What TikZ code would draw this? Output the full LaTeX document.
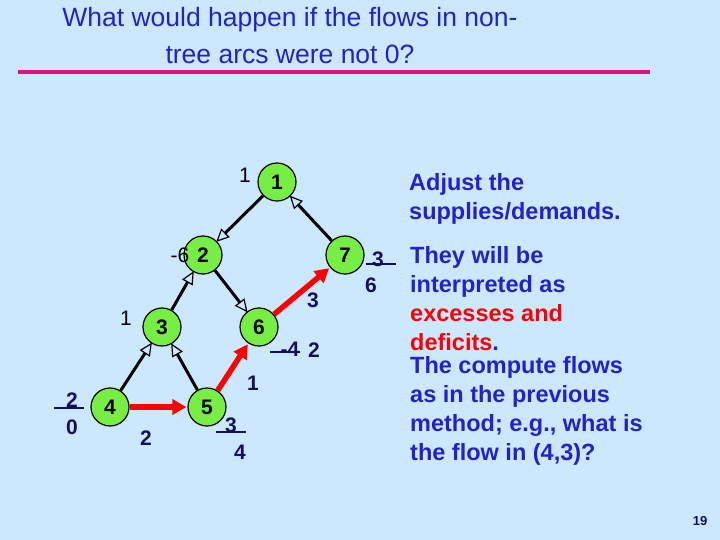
\documentclass[tikz,border=0pt]{standalone}
\usepackage{fontspec}
\setmainfont{Liberation Sans}
\usetikzlibrary{arrows.meta}
\definecolor{bg}{HTML}{CCE8FF}
\definecolor{ttl}{HTML}{2222CC}
\definecolor{navy}{HTML}{101060}
\definecolor{grn}{HTML}{77EE44}
\begin{document}
\begin{tikzpicture}[x=1pt,y=-1pt,
  nd/.style={circle,draw=black,line width=1.2pt,fill=grn,minimum size=38pt,inner sep=0pt,font=\bfseries\fontsize{21}{21}\selectfont},
  tr/.style={draw=black,line width=3pt,-{Triangle[open,fill=bg,length=13pt,width=12pt,line width=1.2pt]},shorten >=-1pt},
  rd/.style={draw=red,line width=5.5pt,-{Triangle[length=14pt,width=15pt]},shorten >=1pt},
  lb/.style={font=\bfseries\fontsize{21}{21}\selectfont,text=navy,inner sep=0pt},
  bl/.style={font=\fontsize{21}{21}\selectfont,inner sep=0pt},
  st/.style={draw=navy,line width=2.5pt}]
\fill[bg] (0,0) rectangle (720,540);
\useasboundingbox (0,0) rectangle (720,540);
\node[text=ttl,align=center,font=\fontsize{26.5}{37}\selectfont] (title) at (290,36) {What would happen if the flows in non-\\tree arcs were not 0?};
\draw[magenta!80!purple,line width=4pt] (18,72) -- (650,72);
\node[nd] (n1) at (277,182) {1};
\node[nd] (n2) at (203,255) {2};
\node[nd] (n7) at (345,255) {7};
\node[nd] (n3) at (162,327) {3};
\node[nd] (n6) at (259,327) {6};
\node[nd] (n4) at (110,407) {4};
\node[nd] (n5) at (207,407) {5};
\draw[tr] (n1) -- (n2);
\draw[tr] (n7) -- (n1);
\draw[tr] (n3) -- (n2);
\draw[tr] (n2) -- (n6);
\draw[tr] (n4) -- (n3);
\draw[tr] (n5) -- (n3);
\draw[rd] (n4) -- (n5);
\draw[rd] (n5) -- (n6);
\draw[rd] (n6) -- (n7);
\node[bl] (s1) at (245,175) {1};
\node[bl] (s2) at (180,255) {-6};
\node[bl] (s3) at (126,318) {1};
\node[lb] (a4) at (72,400) {2};
\draw[st] (54,408) -- (84,408);
\node[lb] (b4) at (72,427) {0};
\node[lb] (e45) at (146,438) {2};
\node[lb] (a5) at (231,425) {3};
\draw[st] (216,432) -- (246,432);
\node[lb] (b5) at (240,452) {4};
\node[lb] (e56) at (253,383) {1};
\node[lb] (a6) at (290,349) {-4};
\draw[st] (270,352) -- (300,352);
\node[lb] (b6) at (314,350) {2};
\node[lb] (e67) at (313,300) {3};
\node[lb] (a7) at (378,259) {3};
\draw[st] (366,264) -- (396,264);
\node[lb] (b7) at (371,285) {6};
\node[text=ttl,anchor=north west,align=left,font=\bfseries\fontsize{23.5}{29}\selectfont,inner sep=0pt] (t1) at (409,173) {Adjust the\\supplies/demands.};
\node[text=ttl,anchor=north west,align=left,font=\bfseries\fontsize{23.5}{29}\selectfont,inner sep=0pt] (t2) at (410,246) {They will be\\interpreted as\\\textcolor{red}{excesses and}\\\textcolor{red}{deficits}.\\[-6pt]The compute flows\\as in the previous\\method; e.g., what is\\the flow in (4,3)?};
\node[text=navy,font=\bfseries\fontsize{13}{13}\selectfont] (pg) at (700,521) {19};
\end{tikzpicture}
\end{document}
